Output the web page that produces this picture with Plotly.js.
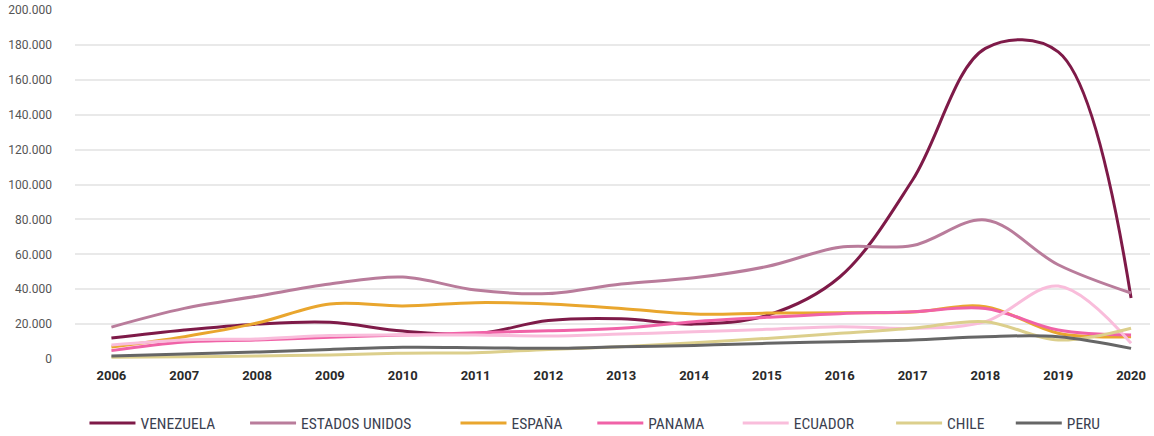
<!DOCTYPE html>
<html>
<head>
<meta charset="utf-8">
<script src="https://cdn.plot.ly/plotly-3.0.1.min.js"></script>
<style>
html,body{margin:0;padding:0;background:#fff;}
#chart{width:1154px;height:436px;}
</style>
</head>
<body>
<div id="chart"></div>
<script>
const years = [2006,2007,2008,2009,2010,2011,2012,2013,2014,2015,2016,2017,2018,2019,2020];

const venezuela      = [12000,16600,20000,21000,16000,14300,22000,23000,20000,25000,47000,102600,178000,176000,35000];
const estadosUnidos  = [18300,29000,36000,43000,47000,39500,37500,43000,46500,53000,64000,65000,79700,54000,37800];
const espana         = [6900,12800,20600,31500,30400,32300,31500,29000,25800,26300,26500,27000,30000,14800,12800];
const panama         = [4800,9700,10900,12400,13700,15000,16200,17600,21400,23900,26000,27100,29000,16600,13700];
const ecuador        = [8000,10900,11500,13400,13700,13700,13200,14300,15600,17000,18500,17600,21400,41800,9000];
const chile          = [1000,1300,1700,2300,3300,3600,5500,7000,9300,11800,14700,17600,21400,10900,17600];
const peru           = [1700,2900,4000,5500,6700,6500,6100,7000,7800,9000,9900,10900,12800,12800,6100];

const seriesNames  = ['VENEZUELA','ESTADOS UNIDOS','ESPAÑA','PANAMA','ECUADOR','CHILE','PERU'];
const seriesValues = [venezuela, estadosUnidos, espana, panama, ecuador, chile, peru];
const seriesColors = ['#7e1a48','#b97c9b','#e9a62e','#f062a7','#f9bddb','#dccf8c','#666666'];
// trailing spacing after each legend label (number of no-break spaces)
const legendPad    = [7, 11, 7, 8, 9, 6, 0];

const traces = [];
for (let k = 0; k < seriesNames.length; k++) {
  traces.push({
    x: years,
    y: seriesValues[k],
    name: seriesNames[k] + '\u00a0'.repeat(legendPad[k]),
    type: 'scatter',
    mode: 'lines',
    line: {color: seriesColors[k], width: 3, shape: 'spline', smoothing: 1},
    hoverinfo: 'x+y+name'
  });
}

const layout = {
  width: 1154,
  height: 436,
  margin: {l: 75, r: 4, t: 10, b: 77},
  paper_bgcolor: '#ffffff',
  plot_bgcolor: '#ffffff',
  separators: ',.',
  showlegend: true,
  legend: {
    orientation: 'h',
    xref: 'container', yref: 'container',
    x: 0.0732, xanchor: 'left',
    y: 0.0287, yanchor: 'middle',
    traceorder: 'normal',
    font: {family: 'Liberation Sans Narrow, Roboto Condensed, Roboto, sans-serif', size: 15.5, color: '#3b4150'},
    itemwidth: 46
  },
  xaxis: {
    type: 'linear',
    range: [2005.5, 2020.26],
    tickvals: years,
    ticktext: years.map(String),
    showgrid: false,
    zeroline: false,
    showline: false,
    ticks: '',
    ticklabelstandoff: 7,
    tickfont: {family: 'Roboto, sans-serif', size: 13, color: '#2a2a2a', weight: 'bold'}
  },
  yaxis: {
    range: [0, 200000],
    dtick: 20000,
    tickformat: ',.0f',
    showgrid: true,
    gridcolor: '#e9e9e9',
    gridwidth: 2,
    zeroline: false,
    showline: false,
    ticks: '',
    ticklabelstandoff: 22,
    tickfont: {family: 'Roboto, sans-serif', size: 12, color: '#555555'}
  }
};

Plotly.newPlot('chart', traces, layout, {displayModeBar: false, staticPlot: true});
</script>
</body>
</html>
